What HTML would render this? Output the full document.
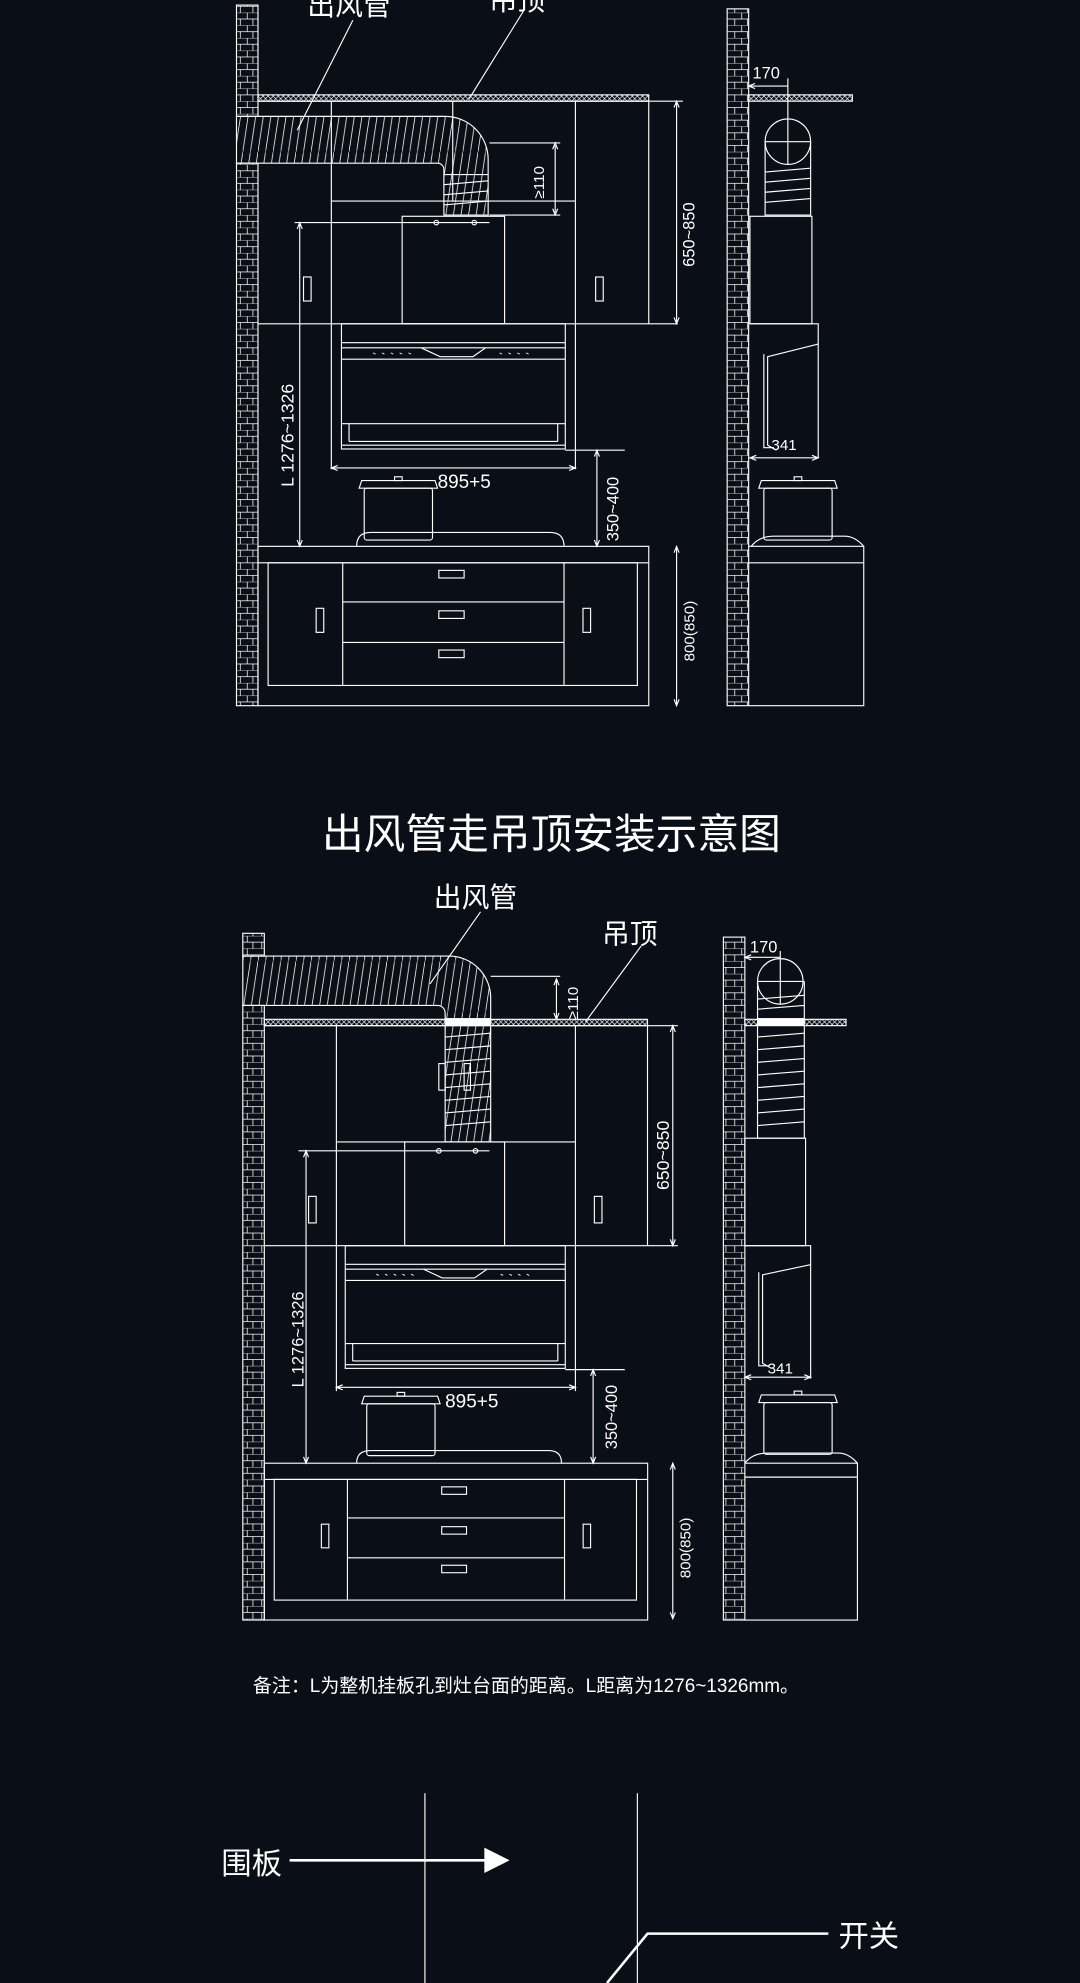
<!DOCTYPE html>
<html><head><meta charset="utf-8"><style>
html,body{margin:0;padding:0;background:#0a0e17;}
svg{display:block}
text{font-family:"Liberation Sans","Noto Sans CJK SC",sans-serif;fill:#fff}
</style></head><body>
<svg width="1080" height="1983" viewBox="0 0 854 1568" xmlns="http://www.w3.org/2000/svg">
<defs>
<pattern id="brick" width="17" height="10" patternUnits="userSpaceOnUse">
<path d="M0 0H17M0 5H17M8.5 0V5M3 5V10M13 5V10" stroke="#fff" stroke-width="0.6" fill="none"/>
</pattern>
<pattern id="ceil" width="4" height="4" patternUnits="userSpaceOnUse">
<path d="M0 0L4 4M4 0L0 4" stroke="#fff" stroke-width="0.5"/>
</pattern>
<pattern id="hatch" width="6" height="40" patternUnits="userSpaceOnUse">
<path d="M0 40L6 0" stroke="#fff" stroke-width="0.6"/>
</pattern>
<g id="hood" fill="none" stroke="#fff" stroke-width="0.9">
<rect x="0" y="0" width="177" height="99"/>
<path d="M0 15H177M0 19H177M0 28H177M0 79H177M0 96H177"/>
<path d="M63 19L78 26H104L114 19"/>
<path d="M6 79V93M171 79V93M6 93H171"/>
<path d="M25 23l2 1M32 23l2 1M39 23l2 1M46 23l2 1M53 23l2 1M125 23l2 1M132 23l2 1M139 23l2 1M146 23l2 1" stroke-width="0.7"/>
</g>
<g id="pot" fill="none" stroke="#fff" stroke-width="0.9">
<rect x="4" y="6" width="54" height="41" rx="2"/>
<path d="M0 6H62L60 0H2Z"/>
<rect x="28" y="-3" width="6" height="3"/>
</g>
<g id="counter" fill="none" stroke="#fff" stroke-width="0.9">
<rect x="0" y="0" width="309" height="126"/>
<path d="M0 13H309"/>
<rect x="8" y="13" width="292" height="97"/>
<path d="M67 13V110M242 13V110M67 44H242M67 76H242"/>
<rect x="143" y="19" width="20" height="6"/>
<rect x="143" y="51" width="20" height="6"/>
<rect x="143" y="82" width="20" height="6"/>
<rect x="46" y="49" width="6" height="19"/>
<rect x="257" y="49" width="6" height="19"/>
</g>
</defs>

<g fill="none" stroke="#fff" stroke-width="0.9">
<text x="243" y="12" font-size="22" stroke="none">出风管</text>
<text x="387" y="8" font-size="22" stroke="none">吊顶</text>
<path d="M279 16L235 103M415 7L371 78"/>
<rect x="187" y="4" width="17" height="88" fill="url(#brick)"/>
<rect x="187" y="129" width="17" height="429" fill="url(#brick)"/>
<rect x="204" y="75" width="309" height="5" fill="url(#ceil)"/>
<path d="M187 92H352A34 34 0 0 1 386 126V170H351V134A5 5 0 0 0 346 129H187Z" fill="url(#hatch)"/>
<path d="M351 138H386M351 146L386 143M351 154L386 151M351 162L386 159"/>
<path d="M204 80H513V256M204 256H536M262 80V371M455 80V371M262 159H455M358 80V159M513 80H540"/>
<path d="M387 113H443M387 170H443M439 115V168M437 118L439 113L441 118M437 165L439 170L441 165"/>
<text transform="translate(430,157) rotate(-90)" font-size="12" stroke="none">≥110</text>
<rect x="240" y="219" width="6" height="19"/>
<rect x="471" y="219" width="6" height="19"/>
<path d="M535 80V256M533 85L535 80L537 85M533 251L535 256L537 251"/>
<text transform="translate(549,211) rotate(-90)" font-size="13" stroke="none">650~850</text>
<rect x="318" y="171" width="81" height="85"/>
<path d="M233 176H387"/>
<circle cx="345" cy="176" r="1.8"/><circle cx="375" cy="176" r="1.8"/>
<use href="#hood" x="270" y="256"/>
<path d="M237 176V432M235 181L237 176L239 181M235 427L237 432L239 427"/>
<text transform="translate(232,385) rotate(-90)" font-size="14" stroke="none">L  1276~1326</text>
<path d="M262 370H455M267 368L262 370L267 372M450 368L455 370L450 372"/>
<text x="346" y="386" font-size="15" stroke="none">895+5</text>
<path d="M447 356H494M472 356V432M470 361L472 356L474 361M470 427L472 432L474 427"/>
<text transform="translate(489,428) rotate(-90)" font-size="13" stroke="none">350~400</text>
<use href="#pot" x="284" y="380"/>
<path d="M282 432Q282 421 293 421H435Q446 421 446 432"/>
<use href="#counter" x="204" y="432"/>
<path d="M535 432V558M533 437L535 432L537 437M533 553L535 558L537 553"/>
<text transform="translate(549,523) rotate(-90)" font-size="12" stroke="none">800(850)</text>
<rect x="575" y="7" width="17" height="551" fill="url(#brick)"/>
<rect x="592" y="75" width="82" height="5" fill="url(#ceil)"/>
<text x="595" y="62" font-size="13" stroke="none">170</text>
<path d="M592 68H623M597 66L592 68L597 70M623 62V130"/>
<circle cx="623" cy="112" r="18"/>
<path d="M605 112V170H641V112M605 112H641M605 136L641 133M605 144L641 141M605 152L641 149M605 160L641 157"/>
<rect x="593" y="171" width="49" height="85"/>
<path d="M593 256H647V272L607 282V352L614 356M647 256V362M604 280V354H612"/>
<text x="610" y="356" font-size="12" stroke="none">341</text>
<path d="M593 362H647M598 360L593 362L598 364M642 360L647 362L642 364"/>
<use href="#pot" x="600" y="380"/>
<path d="M594 432Q600 424 612 424H668Q676 424 683 432"/>
<path d="M592 432H683V445H592M683 445V558H592"/>
</g>

<text x="436" y="671" font-size="33" text-anchor="middle">出风管走吊顶安装示意图</text>

<g fill="none" stroke="#fff" stroke-width="0.9">
<text x="343" y="717" font-size="22" stroke="none">出风管</text>
<text x="476" y="746" font-size="22" stroke="none">吊顶</text>
<path d="M380 721L340 778M507 748L463 808"/>
<rect x="192" y="738" width="17" height="18" fill="url(#brick)"/>
<rect x="192" y="795" width="17" height="486" fill="url(#brick)"/>
<rect x="209" y="806" width="303" height="5" fill="url(#ceil)"/>
<path d="M192 756H355A33 33 0 0 1 388 789V903H352V801A6 6 0 0 0 346 795H192Z" fill="url(#hatch)"/>
<rect x="352" y="805" width="36" height="6" fill="#fff" stroke="none"/>
<path d="M352 820L388 817M352 830L388 827M352 840L388 837M352 850L388 847M352 860L388 857M352 870L388 867M352 880L388 877M352 890L388 887"/>
<rect x="347" y="841" width="5" height="21"/><rect x="367" y="841" width="5" height="21"/>
<path d="M388 772H443M440 774V806M438 779L440 774L442 779M438 801L440 806L442 801"/>
<text transform="translate(457,806) rotate(-90)" font-size="12" stroke="none">≥110</text>
<path d="M209 811H512V985M209 985H536M266 811V1100M455 811V1100M266 903H455M512 811H536"/>
<rect x="244" y="946" width="6" height="21"/>
<rect x="470" y="946" width="6" height="21"/>
<path d="M532 811V985M530 816L532 811L534 816M530 980L532 985L534 980"/>
<text transform="translate(529,941) rotate(-90)" font-size="14" stroke="none">650~850</text>
<rect x="320" y="903" width="79" height="82"/>
<path d="M236 910H387"/>
<circle cx="347" cy="910" r="1.8"/><circle cx="376" cy="910" r="1.8"/>
<use href="#hood" x="273" y="985" transform="translate(273,985) scale(0.983,0.98) translate(-273,-985)"/>
<path d="M242 910V1157M240 915L242 910L244 915M240 1152L242 1157L244 1152"/>
<text transform="translate(240,1097) rotate(-90)" font-size="13" stroke="none">L  1276~1326</text>
<path d="M266 1097H455M271 1095L266 1097L271 1099M450 1095L455 1097L450 1099"/>
<text x="352" y="1113" font-size="15" stroke="none">895+5</text>
<path d="M447 1083H494M469 1083V1157M467 1088L469 1083L471 1088M467 1152L469 1157L471 1152"/>
<text transform="translate(488,1146) rotate(-90)" font-size="13" stroke="none">350~400</text>
<use href="#pot" x="286" y="1104"/>
<path d="M282 1157Q282 1147 293 1147H434Q444 1147 444 1157"/>
<use href="#counter" x="209" y="1157" transform="translate(209,1157) scale(0.981,0.984) translate(-209,-1157)"/>
<path d="M532 1157V1280M530 1162L532 1157L534 1162M530 1275L532 1280L534 1275"/>
<text transform="translate(546,1248) rotate(-90)" font-size="12" stroke="none">800(850)</text>
<rect x="572" y="741" width="17" height="540" fill="url(#brick)"/>
<rect x="589" y="806" width="80" height="5" fill="url(#ceil)"/>
<text x="593" y="753" font-size="13" stroke="none">170</text>
<path d="M589 757H617M594 755L589 757L594 759M617 752V794"/>
<circle cx="617" cy="776" r="18"/>
<path d="M599 776V900H636V776M599 776H636"/>
<rect x="599" y="805" width="37" height="6" fill="#fff" stroke="none"/>
<path d="M599 790L636 787M599 798L636 795M599 820L636 817M599 830L636 827M599 840L636 837M599 850L636 847M599 860L636 857M599 870L636 867M599 880L636 877M599 890L636 887"/>
<rect x="589" y="900" width="48" height="85"/>
<path d="M589 985H641V1000L603 1008V1078L610 1082M641 985V1090M600 1006V1080H608"/>
<text x="607" y="1086" font-size="12" stroke="none">341</text>
<path d="M589 1089H641M594 1087L589 1089L594 1091M636 1087L641 1089L636 1091"/>
<use href="#pot" x="600" y="1103"/>
<path d="M589 1157Q595 1149 607 1149H663Q671 1149 678 1157"/>
<path d="M589 1157H678V1168H589M678 1168V1281H589"/>
</g>

<text x="200" y="1338" font-size="15">备注：L为整机挂板孔到灶台面的距离。L距离为1276~1326mm。</text>

<g stroke="#fff" fill="none">
<path d="M336 1418V1568M504 1418V1568" stroke-width="0.9"/>
<path d="M229 1471H385" stroke-width="2"/>
<path d="M383 1461L403 1471L383 1481Z" fill="#fff" stroke="none"/>
<path d="M655 1529H512L480 1568" stroke-width="2"/>
</g>
<text x="175" y="1482" font-size="24">围板</text>
<text x="663" y="1539" font-size="24">开关</text>
</svg>
</body></html>
